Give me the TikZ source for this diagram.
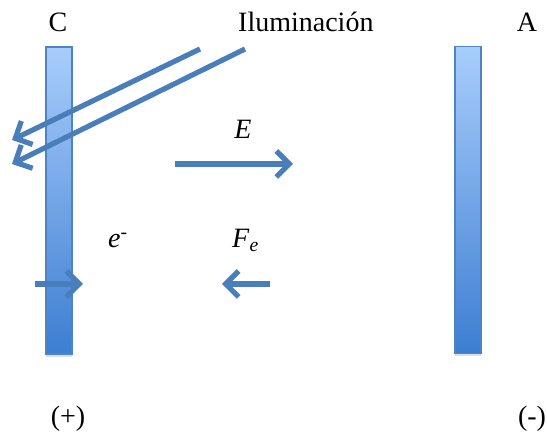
\documentclass[tikz,border=0pt]{standalone}
\usepackage{fontspec}
\setmainfont{Liberation Serif}
\usepackage{xcolor}
\usepackage{tikz}
\usetikzlibrary{arrows.meta,shadows}
\definecolor{plateTop}{HTML}{A8CDFB}
\definecolor{plateBot}{HTML}{3D7ED2}
\definecolor{plateEdge}{HTML}{4F84C4}
\definecolor{arrBlue}{HTML}{4A7EBB}

\begin{document}
\begin{tikzpicture}[
    x=1pt, y=-1pt,
    plate/.style={draw=plateEdge, line width=1.2pt, top color=plateTop, bottom color=plateBot,
      minimum width=26pt, minimum height=307pt, inner sep=0pt,
      drop shadow={shadow xshift=0pt, shadow yshift=-3pt, opacity=0.25}},
    lbl/.style={font=\fontsize{28}{31}\selectfont, inner sep=0pt},
    barrow/.style={draw=arrBlue, line width=5.2pt, -{Straight Barb[length=13pt,width=26pt]}}
  ]
  \useasboundingbox (0,0) rectangle (547,435);

  % plates
  \node[plate] (cat) at (59,200.5) {};
  \node[plate] (ano) at (468,200) {};

  % labels
  \node[lbl, anchor=base] (labC) at (58,32) {C};
  \node[lbl, anchor=base] (labA) at (527,32) {A};
  \node[lbl, anchor=base west] (ilum) at (238,32) {Iluminación};
  \node[lbl, anchor=base] (pos) at (68,426) {(+)};
  \node[lbl, anchor=base] (neg) at (532,426) {(-)};
  \node[lbl, anchor=base] (labE) at (243,139) {\textit{E}};
  \node[lbl, anchor=base west] (elec) at (108,248) {\textit{e}\textsuperscript{-}};
  \node[lbl, anchor=base west] (force) at (232,248) {\textit{F}\textsubscript{\textit{e}}};

  % light rays
  \coordinate (rayAs) at (200,49);
  \coordinate (rayAe) at (12,140);
  \coordinate (rayBs) at (245,49);
  \coordinate (rayBe) at (12,164);
  \draw[barrow] (rayAs) -- (rayAe);
  \draw[barrow] (rayBs) -- (rayBe);

  % field and force
  \coordinate (fieldS) at (175,164);
  \coordinate (fieldE) at (293,164);
  \draw[barrow] (fieldS) -- (fieldE);
  \coordinate (forceS) at (270,284);
  \coordinate (forceE) at (222,284);
  \draw[barrow] (forceS) -- (forceE);
  \coordinate (elecS) at (35,284);
  \coordinate (elecE) at (83,284);
  \draw[barrow] (elecS) -- (elecE);
\end{tikzpicture}
\end{document}
